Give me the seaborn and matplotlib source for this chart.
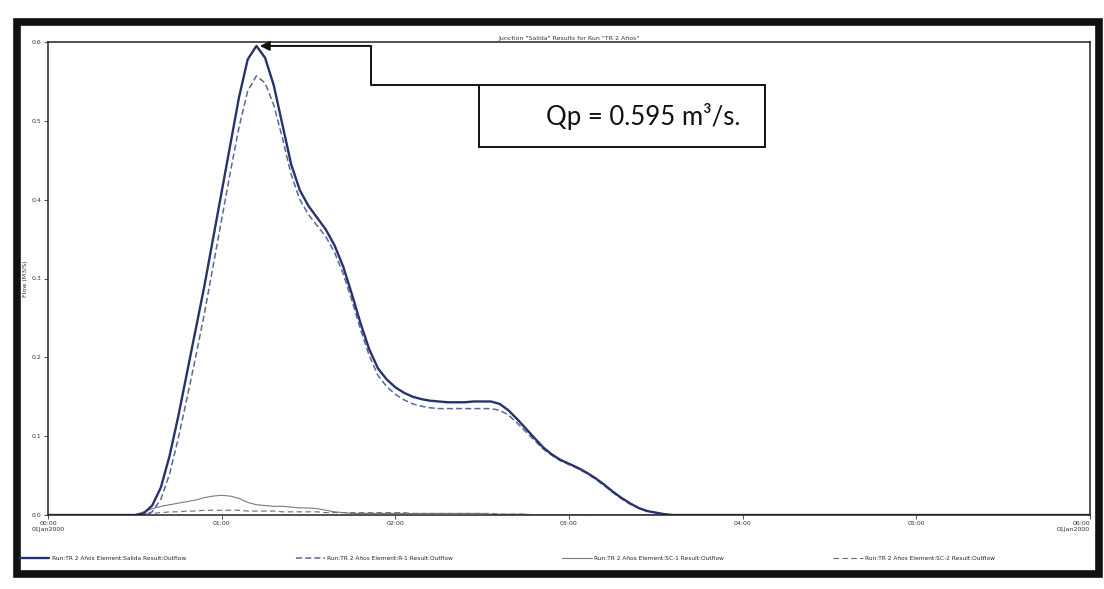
import numpy as np
import pandas as pd
import matplotlib
matplotlib.use("Agg")
import matplotlib.pyplot as plt
from matplotlib.patches import Rectangle
import seaborn as sns

# ---- data: hydrograph ordinates every 3 minutes (0.05 h) ----
# flows are zero before `event_start_h` and after the listed ordinates
step_h = 0.05
event_start_h = 0.5
junction_outflow = [
    0.000, 0.002, 0.012, 0.035, 0.075, 0.125, 0.180, 0.235, 0.290, 0.350,
    0.410, 0.470, 0.530, 0.578, 0.595, 0.580, 0.545, 0.495, 0.445, 0.412,
    0.392, 0.377, 0.362, 0.342, 0.315, 0.280, 0.243, 0.210, 0.186, 0.172,
    0.162, 0.155, 0.150, 0.147, 0.145, 0.144, 0.143, 0.143, 0.143, 0.144,
    0.144, 0.144, 0.141, 0.133, 0.122, 0.110, 0.098, 0.086, 0.077, 0.070,
    0.065, 0.060, 0.054, 0.047, 0.039, 0.030, 0.022, 0.015, 0.009, 0.005,
    0.003, 0.001, 0.000,
]
reach_outflow = [
    0.000, 0.000, 0.004, 0.020, 0.052, 0.097, 0.148, 0.200, 0.255, 0.315,
    0.375, 0.435, 0.492, 0.538, 0.557, 0.548, 0.520, 0.478, 0.432, 0.400,
    0.381, 0.367, 0.353, 0.333, 0.306, 0.272, 0.235, 0.202, 0.177, 0.163,
    0.153, 0.146, 0.141, 0.138, 0.136, 0.135, 0.135, 0.135, 0.135, 0.135,
    0.135, 0.135, 0.133, 0.127, 0.117, 0.106, 0.095, 0.084, 0.076, 0.069,
    0.064, 0.059, 0.053, 0.046, 0.038, 0.029, 0.021, 0.014, 0.009, 0.005,
    0.003, 0.001, 0.000,
]
subbasin1_outflow = [
    0.000, 0.004, 0.008, 0.011, 0.013, 0.015, 0.017, 0.019, 0.022, 0.024,
    0.025, 0.024, 0.021, 0.016, 0.013, 0.012, 0.011, 0.011, 0.010, 0.009,
    0.009, 0.008, 0.006, 0.004, 0.003, 0.002, 0.002, 0.002, 0.002, 0.002,
    0.002, 0.002, 0.002, 0.002, 0.002, 0.002, 0.002, 0.002, 0.002, 0.002,
    0.002, 0.001, 0.001, 0.001, 0.001, 0.001, 0.000,
]
subbasin2_outflow = [
    0.000, 0.001, 0.002, 0.003, 0.004, 0.004, 0.005, 0.005, 0.006, 0.006,
    0.006, 0.006, 0.006, 0.005, 0.005, 0.005, 0.005, 0.004, 0.004, 0.004,
    0.004, 0.004, 0.003, 0.003, 0.003, 0.003, 0.003, 0.003, 0.003, 0.003,
    0.003, 0.003, 0.002, 0.002, 0.002, 0.002, 0.002, 0.002, 0.002, 0.002,
    0.002, 0.002, 0.001, 0.001, 0.001, 0.001, 0.000,
]
series_labels = [
    "Run:TR 2 Años Element:Salida Result:Outflow",
    "Run:TR 2 Años Element:R-1 Result:Outflow",
    "Run:TR 2 Años Element:SC-1 Result:Outflow",
    "Run:TR 2 Años Element:SC-2 Result:Outflow",
]
tick_hours = [0, 1, 2, 3, 4, 5, 6]
tick_labels = ["00:00\n01Jan2000", "01:00", "02:00", "03:00", "04:00", "05:00", "06:00\n01Jan2000"]
y_ticks = [0.0, 0.1, 0.2, 0.3, 0.4, 0.5, 0.6]
peak_flow = 0.595
plot_title = 'Junction "Salida" Results for Run "TR 2 Años"'
end_h = 6.0

# full time base from 00:00 to 06:00
n_steps = int(round(end_h / step_h)) + 1
hours = np.arange(n_steps) * step_h
offset = int(round(event_start_h / step_h))

def on_time_base(values):
    full = np.zeros(n_steps)
    full[offset:offset + len(values)] = values
    return full

frame = pd.DataFrame({"hours": hours})
for name, vals in zip(series_labels,
                      [junction_outflow, reach_outflow, subbasin1_outflow, subbasin2_outflow]):
    frame[name] = on_time_base(vals)

peak_hour = frame.loc[frame[series_labels[0]].idxmax(), "hours"]

sns.set_theme(style="white")
plt.rcParams["font.family"] = ["DejaVu Sans"]

W, H = 1104, 589
fig = plt.figure(figsize=(W / 100, H / 100), dpi=100)
fig.patch.set_facecolor("white")

def fx(px):
    return px / W

def fy(py):
    return 1 - py / H

ax = fig.add_axes([fx(48), fy(515), fx(1090) - fx(48), fy(42) - fy(515)])
ax.set_facecolor("white")

styles = [
    dict(color="#27336e", linewidth=1.7, linestyle="-"),
    dict(color="#5b6794", linewidth=1.1, linestyle=(0, (4, 2))),
    dict(color="#7a7a80", linewidth=0.8, linestyle="-"),
    dict(color="#6a6a74", linewidth=0.8, linestyle=(0, (5, 3))),
]
# small hydrographs first so the junction hydrograph sits on top
for idx in [3, 2, 1, 0]:
    sns.lineplot(data=frame, x="hours", y=series_labels[idx], ax=ax,
                 label=series_labels[idx], **styles[idx])

ax.set_xlim(0, end_h)
ax.set_ylim(0, 0.6)
ax.set_xticks(tick_hours)
ax.set_xticklabels(tick_labels, fontsize=4.5, color="#333333")
xt = ax.get_xticklabels()
xt[-1].set_horizontalalignment("right")
ax.set_yticks(y_ticks)
ax.set_yticklabels([f"{v:.1f}" for v in y_ticks], fontsize=4.5, color="#333333")
ax.tick_params(axis="both", which="both", length=3, width=0.6, color="#333333",
               direction="out", pad=1.5, left=True, bottom=True)
for side in ["left", "bottom", "top", "right"]:
    ax.spines[side].set_color("#222222")
    ax.spines[side].set_linewidth(1.1)
ax.set_xlabel("")
ax.set_ylabel("Flow (M3/S)", fontsize=4.5, color="#333333")
ax.yaxis.set_label_coords(-0.019, 0.5)
ax.set_title(plot_title, fontsize=4.5, color="#333333", pad=1.5)

# legend along the bottom of the page
handles, labels = ax.get_legend_handles_labels()
order = [labels.index(s) for s in series_labels]
ax.get_legend().remove()
fig.legend([handles[i] for i in order], [labels[i] for i in order],
           loc="lower left", ncol=4, mode="expand", frameon=False,
           fontsize=4.2, handlelength=5, handletextpad=0.4,
           bbox_to_anchor=(fx(15), fy(566), fx(1000) - fx(15), fy(543) - fy(566)))

# peak annotation: arrow from the peak, stepped connector, and label box
conn_x = 1.86
box_x0, box_x1 = 2.48, 4.13
box_y0, box_y1 = 0.467, 0.545
ax.annotate("", xy=(peak_hour + 0.02, peak_flow), xytext=(conn_x, peak_flow),
            arrowprops=dict(arrowstyle="-|>", color="#111111", lw=1.4,
                            mutation_scale=14, shrinkA=0, shrinkB=0),
            annotation_clip=False)
ax.plot([conn_x, conn_x, box_x0], [peak_flow, box_y1, box_y1],
        color="#111111", lw=1.4, solid_capstyle="butt", clip_on=False)
ax.add_patch(Rectangle((box_x0, box_y0), box_x1 - box_x0, box_y1 - box_y0,
                       fill=True, facecolor="white", edgecolor="#111111", lw=1.4, zorder=5))
ax.text((box_x0 + box_x1) / 2 + 0.12, (box_y0 + box_y1) / 2,
        f"Qp = {peak_flow:.3f} m³/s.", ha="center", va="center",
        fontsize=18.5, color="#111111", family=["Lato", "DejaVu Sans"], zorder=6)

# thick page frame around the printout
fig.add_artist(Rectangle((fx(17), fy(574)), fx(1099) - fx(17), fy(22) - fy(574),
                         transform=fig.transFigure, fill=False,
                         edgecolor="#111111", lw=5.5))

fig.savefig("out.png", dpi=100, facecolor="white")
